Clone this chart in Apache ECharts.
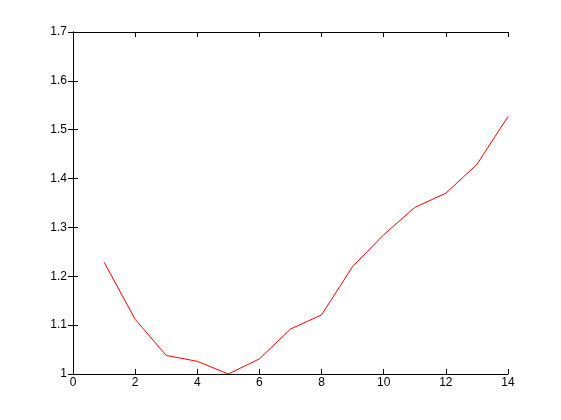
<!DOCTYPE html>
<html lang="en">
<head>
    <meta charset="UTF-8">
    <title>Line</title>
    <style>
        html, body { margin: 0; padding: 0; background: #fff; }
        #main { width: 561px; height: 420px; }
    </style>
</head>
<body>
    <div id="main"></div>
</body>
<script src="https://cdn.jsdelivr.net/npm/echarts@6/dist/echarts.min.js"></script>
<script type="text/javascript">
    // data
    var xValues = [1, 2, 3, 4, 5, 6, 7, 8, 9, 10, 11, 12, 13, 14];
    var yValues = [1.229, 1.112, 1.038, 1.026, 1.0, 1.031, 1.092, 1.121, 1.220, 1.285, 1.341, 1.370, 1.429, 1.527];

    var points = xValues.map(function (x, i) { return [x, yValues[i]]; });

    var font = { color: '#000', fontSize: 12, fontFamily: 'Liberation Sans, Arial, sans-serif' };

    // one axis pair shows labels, the other pair only closes the box with ticks
    function xAxis(pos, showLabel) {
        return {
            type: 'value', position: pos, min: 0, max: 14, interval: 2,
            axisLine: { show: true, lineStyle: { color: '#000', width: 1 } },
            axisTick: { show: true, inside: true, length: 5, lineStyle: { color: '#000' } },
            axisLabel: Object.assign({ show: showLabel, margin: 3 }, font),
            splitLine: { show: false }
        };
    }
    function yAxis(pos, showLabel) {
        return {
            type: 'value', position: pos, min: 1, max: 1.7, interval: 0.1,
            axisLine: { show: true, lineStyle: { color: '#000', width: 1 } },
            axisTick: { show: true, inside: true, length: 5, lineStyle: { color: '#000' } },
            axisLabel: Object.assign({
                show: showLabel, margin: 6,
                formatter: function (v) { return Math.round(v * 10) / 10 + ''; }
            }, font),
            splitLine: { show: false }
        };
    }

    var option = {
        backgroundColor: '#fff',
        animation: false,
        grid: { left: 73, right: 53, top: 32, bottom: 46 },
        xAxis: [xAxis('bottom', true), xAxis('top', false)],
        yAxis: [yAxis('left', true), yAxis('right', false)],
        series: [{
            type: 'line',
            data: points,
            symbol: 'none',
            lineStyle: { color: '#ff0000', width: 1 }
        }]
    };

    var myChart = echarts.init(document.getElementById('main'));
    myChart.setOption(option);
</script>
</html>
